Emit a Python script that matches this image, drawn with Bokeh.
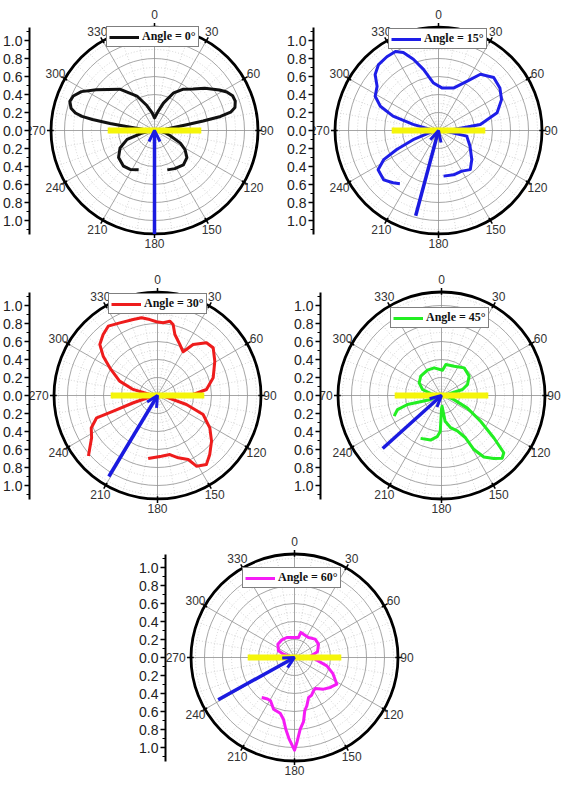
import numpy as np
from bokeh.plotting import figure
from bokeh.models import (Range1d, FixedTicker, CustomJSTickFormatter, Arrow, OpenHead,
                          Label, Legend, LegendItem, Spacer)
from bokeh.layouts import column, row
from bokeh.embed import file_html
from bokeh.resources import INLINE
from bokeh.core.properties import value

# ---------------- data (angle in degrees clockwise from top, radius) ----------------
a_theta = [202, 212, 221, 233, 243, 252, 258, 265, 272, 276, 278, 279, 280, 281, 282.5, 285, 289, 293, 298,
           305, 320, 333, 343, 352, 0, 11, 18, 27, 35, 43, 50, 58, 62, 66, 70, 74, 76.5, 78, 79, 80, 83, 88,
           95, 102, 108, 116, 122, 130, 140, 152, 162]
a_r = [0.47, 0.51, 0.525, 0.50, 0.43, 0.32, 0.15, 0.04, 0.05, 0.12, 0.30, 0.50, 0.70, 0.82, 0.90, 0.96, 0.995,
       0.98, 0.92, 0.79, 0.60, 0.43, 0.29, 0.20, 0.14, 0.22, 0.32, 0.47, 0.56, 0.63, 0.73, 0.85, 0.91, 0.95,
       0.955, 0.93, 0.87, 0.75, 0.55, 0.35, 0.12, 0.04, 0.06, 0.12, 0.18, 0.32, 0.40, 0.47, 0.50, 0.48, 0.46]

b_theta = [216, 221, 228, 237, 242, 245.5, 250, 256, 268, 277, 283.5, 287.6, 292.6, 298.4, 305.7, 311.5,
           317.7, 325, 331.4, 335.7, 340.6, 346.2, 354, 4.5, 19.4, 29.9, 36.7, 46.2, 55.3, 63.9, 73.2, 81.8,
           86, 92, 99, 101.3, 116.3, 131, 140.9, 150.2, 161.1, 173.7]
b_r = [0.73, 0.77, 0.82, 0.80, 0.69, 0.51, 0.30, 0.10, 0.04, 0.09, 0.29, 0.53, 0.70, 0.80, 0.84, 0.94, 0.99,
       1.00, 1.00, 0.95, 0.84, 0.70, 0.53, 0.475, 0.50, 0.63, 0.78, 0.85, 0.83, 0.78, 0.68, 0.47, 0.17, 0.05,
       0.13, 0.32, 0.39, 0.49, 0.56, 0.52, 0.52, 0.51]

c_theta = [228.8, 232.3, 237.3, 243.9, 249.9, 250.6, 253.3, 262, 277, 284, 290.8, 300, 305.9, 311.5, 318.3,
           324.6, 332.6, 342.3, 348.4, 354.2, 359.2, 4.5, 9.4, 12.4, 15.9, 23.6, 30.4, 34.9, 42.9, 49.4, 59.1,
           72.4, 83, 88.4, 90.5, 96, 100.6, 107.3, 112.6, 121.7, 130.2, 138.5, 144.7, 151.1, 154.4, 161.6,
           168.2, 176.3, 188.4]
c_r = [1.02, 0.95, 0.87, 0.82, 0.72, 0.52, 0.28, 0.06, 0.086, 0.28, 0.45, 0.61, 0.745, 0.856, 0.908, 0.945,
       0.909, 0.886, 0.881, 0.848, 0.819, 0.81, 0.837, 0.808, 0.705, 0.619, 0.563, 0.692, 0.799, 0.815, 0.742,
       0.649, 0.548, 0.396, 0.12, 0.04, 0.10, 0.337, 0.549, 0.683, 0.786, 0.876, 0.94, 0.897, 0.789, 0.73,
       0.67, 0.676, 0.708]

d_theta = [246.4, 252.3, 255.2, 249.7, 265, 280, 287.6, 299.6, 313, 331, 345.2, 2.2, 8, 23.4, 39.4, 55, 67,
           74, 76, 90, 108, 116, 123.4, 129, 132.6, 136, 140.3, 145.5, 149, 150.4, 155.9, 164.4, 172, 177,
           180, 182, 186, 193.8, 206]
d_r = [0.574, 0.513, 0.391, 0.127, 0.04, 0.121, 0.221, 0.285, 0.315, 0.322, 0.318, 0.281, 0.348, 0.355,
       0.397, 0.375, 0.314, 0.243, 0.126, 0.04, 0.14, 0.32, 0.52, 0.75, 0.94, 0.97, 0.91, 0.83, 0.70, 0.54,
       0.43, 0.37, 0.29, 0.12, 0.15, 0.40, 0.46, 0.51, 0.53]

e_theta = [219.3, 213, 209, 202, 194.4, 190, 187, 184, 180, 178.4, 175.5, 172, 169, 165.7, 160.6, 155.6,
           150.3, 146, 137.5, 130, 122.2, 112.5, 104.5, 94.7, 86.4, 76.2, 61, 48.4, 35, 21, 14.1, 11.3, 357,
           339, 324.3, 308.7, 292.6, 286.9, 283]
e_r = [0.574, 0.55, 0.55, 0.62, 0.64, 0.70, 0.80, 0.90, 1.03, 0.945, 0.80, 0.72, 0.60, 0.554, 0.471, 0.46,
       0.426, 0.414, 0.477, 0.518, 0.556, 0.46, 0.371, 0.231, 0.174, 0.263, 0.305, 0.307, 0.271, 0.278, 0.287,
       0.226, 0.222, 0.238, 0.241, 0.237, 0.193, 0.128, 0.05]

panel_labels = ["(a)", "(b)", "(c)", "(d)", "(e)"]
legend_labels = ["Angle = 0°", "Angle = 15°", "Angle = 30°", "Angle = 45°", "Angle = 60°"]
arrow_angle = [180, 195, 211, 228, 241]
arrow_len = [1.15, 0.98, 1.05, 0.88, 0.97]
bar_angle = 90
bar_half_len = 0.52

r_max = 1.15
r_ticks = [-1.0, -0.8, -0.6, -0.4, -0.2, 0.0, 0.2, 0.4, 0.6, 0.8, 1.0]
r_minor = [-1.1, -0.9, -0.7, -0.5, -0.3, -0.1, 0.1, 0.3, 0.5, 0.7, 0.9, 1.1]
grid_major_r = [0.2, 0.4, 0.6, 0.8, 1.0]
grid_minor_r = [0.1, 0.3, 0.5, 0.7, 0.9, 1.1]
angle_ticks = [0, 30, 60, 90, 120, 150, 180, 210, 240, 270, 300, 330]
angle_tick_labels = ["0", "30", "60", "90", "120", "150", "180", "210", "240", "270", "300", "330"]

# ---------------- styling ----------------
line_colors = ["#111111", "#1e1ee8", "#ee1c1c", "#22ee22", "#f51cf5"]
ARROW_BLUE = "#1a1ae0"
YELLOW = "#f5f50a"
S = 90.0  # pixels per radial unit
label_r = {0: 1.29, 90: 1.25, 180: 1.25, 270: 1.32}


def polar(theta, r):
    t = np.radians(np.asarray(theta, dtype=float))
    rr = np.asarray(r, dtype=float)
    return rr * np.sin(t), rr * np.cos(t)


def make_panel(i, theta, rr, fw, fh, cx, cy, lab_dx, lab_dy, leg_dx, leg_up):
    p = figure(frame_width=fw, frame_height=fh,
               x_range=Range1d(-cx / S, (fw - cx) / S),
               y_range=Range1d(-(fh - cy) / S, cy / S),
               output_backend="svg", toolbar_location=None, x_axis_location=None,
               min_border_left=28, min_border_right=0, min_border_top=0, min_border_bottom=0,
               outline_line_color=None, background_fill_color="white", border_fill_color="white")
    p.xgrid.visible = False
    p.ygrid.visible = False

    # polar grid
    minor_t = [t for t in range(0, 360, 10) if t % 30]
    mx, my = polar(minor_t, [r_max] * len(minor_t))
    p.segment(x0=0, y0=0, x1=mx, y1=my, line_color="#cccccc", line_width=0.8, line_dash="1 2")
    p.circle(x=0, y=0, radius=grid_minor_r, fill_color=None, line_color="#cccccc",
             line_width=0.8, line_dash="1 2")
    Mx, My = polar(angle_ticks, [r_max] * len(angle_ticks))
    p.segment(x0=0, y0=0, x1=Mx, y1=My, line_color="#8f8f8f", line_width=0.8)
    p.circle(x=0, y=0, radius=grid_major_r, fill_color=None, line_color="#8f8f8f", line_width=0.8)
    # outer ring + ticks
    p.circle(x=0, y=0, radius=r_max, fill_color=None, line_color="black", line_width=2.8)
    t0x, t0y = polar(angle_ticks, [r_max - 0.03] * len(angle_ticks))
    t1x, t1y = polar(angle_ticks, [r_max + 0.045] * len(angle_ticks))
    p.segment(x0=t0x, y0=t0y, x1=t1x, y1=t1y, line_color="black", line_width=1.5)

    # angle labels
    lr = [label_r.get(a, 1.27) for a in angle_ticks]
    lx, ly = polar(angle_ticks, lr)
    p.text(x=lx, y=ly, text=angle_tick_labels, text_font=value("Liberation Sans"),
           text_font_size="12px", text_align="center", text_baseline="middle", text_color="#333333")

    # data curve
    x, y = polar(theta, rr)
    ln = p.line(x, y, line_color=line_colors[i], line_width=3, line_join="round")

    # yellow bar
    bx, by = polar([bar_angle + 180, bar_angle], [bar_half_len, bar_half_len])
    p.line(bx, by, line_color=YELLOW, line_width=6)

    # arrow
    ax0, ay0 = polar([arrow_angle[i]], [arrow_len[i]])
    p.add_layout(Arrow(end=OpenHead(size=11, line_color=ARROW_BLUE, line_width=3),
                       x_start=float(ax0[0]), y_start=float(ay0[0]), x_end=0, y_end=0,
                       line_color=ARROW_BLUE, line_width=3.5))

    # radial axis
    yax = p.yaxis[0]
    yax.ticker = FixedTicker(ticks=r_ticks, minor_ticks=r_minor)
    yax.formatter = CustomJSTickFormatter(code="return Math.abs(tick).toFixed(1);")
    yax.bounds = (-r_max, r_max)
    yax.axis_line_width = 2
    yax.axis_line_color = "black"
    yax.major_tick_line_width = 1.5
    yax.major_tick_out = 5
    yax.major_tick_in = 0
    yax.minor_tick_out = 3
    yax.minor_tick_in = 0
    yax.minor_tick_line_width = 1
    yax.major_label_standoff = 2
    yax.major_label_text_font = "Liberation Sans"
    yax.major_label_text_font_size = "14px"
    yax.major_label_text_color = "#222222"

    # legend
    leg = Legend(items=[LegendItem(label=value(legend_labels[i]), renderers=[ln])],
                 location=(cx + leg_dx, fh - cy + leg_up), orientation="vertical",
                 border_line_color="black", border_line_width=1, background_fill_color="white",
                 background_fill_alpha=1, padding=2, margin=0, spacing=0,
                 glyph_width=30, glyph_height=12, label_height=12, label_standoff=3,
                 label_text_font="Liberation Serif", label_text_font_style="bold",
                 label_text_font_size="12px", label_text_color="#111111")
    p.add_layout(leg)

    # panel letter
    p.add_layout(Label(x=lab_dx, y=fh - lab_dy, x_units="screen", y_units="screen",
                       text=panel_labels[i], text_font="Liberation Serif", text_font_style="bold",
                       text_font_size="18px", text_baseline="middle", text_color="#111111"))
    return p


pa = make_panel(0, a_theta, a_r, 255, 265, 125, 130, -28, 8, -48, 83)
pb = make_panel(1, b_theta, b_r, 249, 265, 125, 130, -26, 8, -50, 81)
pc = make_panel(2, c_theta, c_r, 262, 265, 128, 130, -28, 10, -49, 81)
pd = make_panel(3, d_theta, d_r, 242, 265, 121, 130, -30, 10, -51, 67)
pe = make_panel(4, e_theta, e_r, 260, 246, 129, 127, -25, 9, -52, 69)

layout = column(row(pa, pb), row(pc, pd), row(Spacer(width=136, height=10), pe))

with open("out.html", "w") as f:
    f.write(file_html(layout, INLINE))
